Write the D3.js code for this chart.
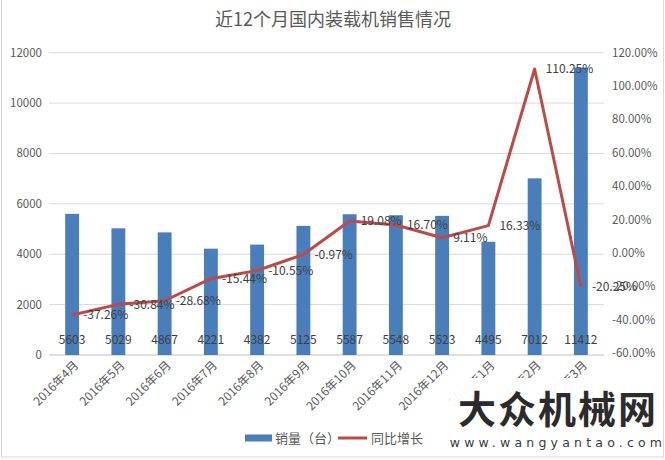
<!DOCTYPE html>
<html>
<head>
<meta charset="utf-8">
<script src="https://cdn.jsdelivr.net/npm/d3@7"></script>
<style>
  body { margin: 0; background: #fff; }
  svg { display: block; font-family: "Noto Sans CJK SC", "DejaVu Sans", sans-serif; }
</style>
</head>
<body>
<svg id="chart" width="665" height="460"></svg>
<script>
const months = ["2016年4月", "2016年5月", "2016年6月", "2016年7月", "2016年8月", "2016年9月",
    "2016年10月", "2016年11月", "2016年12月", "2017年1月", "2017年2月", "2017年3月"];
const sales = [5603, 5029, 4867, 4221, 4382, 5125, 5587, 5548, 5523, 4495, 7012, 11412];
const growth = [-37.26, -30.84, -28.68, -15.44, -10.55, -0.97, 19.08, 16.70, 9.11, 16.33, 110.25, -20.25];
const leftTicks = [0, 2000, 4000, 6000, 8000, 10000, 12000];
const rightTicks = [-60, -40, -20, 0, 20, 40, 60, 80, 100, 120];

const barColor = "#4a7ebb";
const lineColor = "#bb4a49";
const textColor = "#595959";

const svg = d3.select("#chart");
const plot = { left: 49, right: 604, top: 52.7, bottom: 355 };

// outer frame
svg.append("rect")
    .attr("x", 1.5).attr("y", -1).attr("width", 662).attr("height", 458)
    .attr("fill", "none").attr("stroke", "#d9d9d9");

svg.append("text")
    .attr("x", 333).attr("y", 26)
    .attr("text-anchor", "middle")
    .attr("font-size", 18)
    .attr("fill", textColor)
    .text("近12个月国内装载机销售情况");

const x = d3.scaleBand().domain(months).range([plot.left, plot.right]).paddingInner(0.7).paddingOuter(0.35);
const y = d3.scaleLinear().domain([0, 12000]).range([plot.bottom, plot.top]);
const y2 = d3.scaleLinear().domain([-60, 120]).range([plot.bottom - 2, plot.top]);

// gridlines
svg.append("g").selectAll("line").data(leftTicks).join("line")
    .attr("x1", plot.left).attr("x2", plot.right)
    .attr("y1", d => y(d)).attr("y2", d => y(d))
    .attr("stroke", d => d === 0 ? "#bfbfbf" : "#d9d9d9");

// left axis labels
svg.append("g").selectAll("text").data(leftTicks).join("text")
    .attr("x", 42).attr("y", d => y(d)).attr("dy", "0.35em")
    .attr("text-anchor", "end").attr("font-size", 11.5).attr("fill", textColor)
    .text(d => d);

// right axis labels
svg.append("g").selectAll("text").data(rightTicks).join("text")
    .attr("x", 612).attr("y", d => y2(d)).attr("dy", "0.35em")
    .attr("font-size", 11.5).attr("fill", textColor)
    .text(d => d.toFixed(2) + "%");

// bars
svg.append("g").selectAll("rect").data(sales).join("rect")
    .attr("x", (d, i) => x(months[i]))
    .attr("width", x.bandwidth())
    .attr("y", d => y(d))
    .attr("height", d => y(0) - y(d))
    .attr("fill", barColor);

// bar labels (inside base)
svg.append("g").selectAll("text").data(sales).join("text")
    .attr("x", (d, i) => x(months[i]) + x.bandwidth() / 2)
    .attr("y", 340).attr("dy", "0.35em")
    .attr("text-anchor", "middle").attr("font-size", 12).attr("fill", "#404040")
    .text(d => d);

// growth line
const cx = i => x(months[i]) + x.bandwidth() / 2;
const line = d3.line().x((d, i) => cx(i)).y(d => y2(d));
svg.append("path")
    .datum(growth)
    .attr("d", line)
    .attr("fill", "none")
    .attr("stroke", lineColor)
    .attr("stroke-width", 3)
    .attr("stroke-linejoin", "round");

svg.append("g").selectAll("text").data(growth).join("text")
    .attr("x", (d, i) => cx(i) + 11)
    .attr("y", d => y2(d)).attr("dy", "0.35em")
    .attr("font-size", 12).attr("fill", "#404040")
    .text(d => d.toFixed(2) + "%");

// x labels
svg.append("g").selectAll("text").data(months).join("text")
    .attr("transform", d => `translate(${x(d) + x.bandwidth() / 2 + 7},366) rotate(-45)`)
    .attr("text-anchor", "end").attr("font-size", 12).attr("fill", textColor)
    .text(d => d);

// legend
svg.append("rect").attr("x", 245).attr("y", 434.5).attr("width", 27).attr("height", 7).attr("fill", barColor);
svg.append("text").attr("x", 275).attr("y", 438).attr("dy", "0.35em")
    .attr("font-size", 13).attr("fill", textColor).text("销量（台）");
svg.append("line").attr("x1", 338).attr("x2", 367).attr("y1", 438).attr("y2", 438)
    .attr("stroke", lineColor).attr("stroke-width", 3);
svg.append("text").attr("x", 371).attr("y", 438).attr("dy", "0.35em")
    .attr("font-size", 13).attr("fill", textColor).text("同比增长");

// watermark
svg.append("rect").attr("x", 450).attr("y", 378).attr("width", 213).attr("height", 78)
    .attr("fill", "#fff").attr("opacity", 0.96);
svg.append("text").attr("x", 558).attr("y", 423)
    .attr("text-anchor", "middle").attr("font-size", 38).attr("font-weight", "bold")
    .attr("fill", "#2b2b2b").attr("letter-spacing", 2).text("大众机械网");
svg.append("text").attr("x", 558).attr("y", 447)
    .attr("text-anchor", "middle").attr("font-size", 12.5).attr("font-family", "DejaVu Sans")
    .attr("fill", "#3a3a3a").attr("letter-spacing", 4.2).text("www.wangyantao.com");
</script>
</body>
</html>
